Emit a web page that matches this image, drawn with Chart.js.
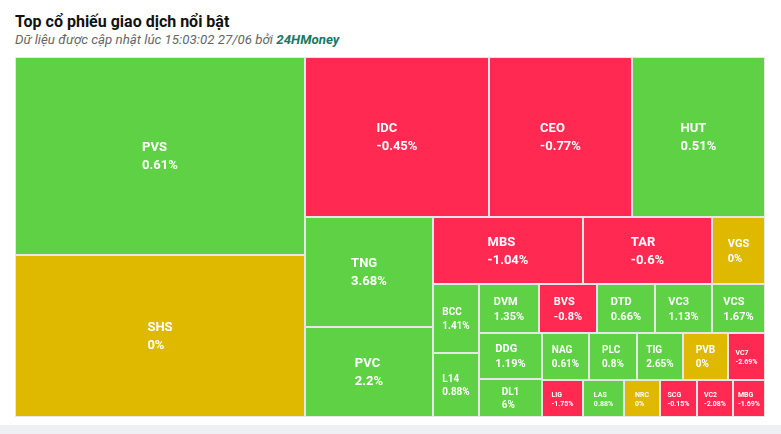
<!DOCTYPE html>
<html>
<head>
<meta charset="utf-8">
<title>Top cổ phiếu giao dịch nổi bật</title>
<script src="https://cdn.jsdelivr.net/npm/chart.js@4.4.1/dist/chart.umd.min.js"></script>
<style>
  body { margin: 0; background: #fff; font-family: Roboto, "Noto Sans", sans-serif; }
  .wrap { position: relative; width: 781px; height: 434px; overflow: hidden; }
  .title { position: absolute; left: 15px; top: 14px; margin: 0; font-size: 16px; line-height: 16px; font-weight: 700; color: #111; }
  .sub { position: absolute; left: 15px; top: 33px; font-size: 13.3px; line-height: 14px; font-style: italic; color: #666; }
  .sub b { color: #157a66; }
  .foot { position: absolute; left: 0; right: 0; top: 425px; height: 9px; background: #eef0f3; }
  canvas { position: absolute; left: 0; top: 0; }
</style>
</head>
<body>
<div class="wrap">
  <div class="title">Top cổ phiếu giao dịch nổi bật</div>
  <div class="sub">Dữ liệu được cập nhật lúc 15:03:02 27/06 bởi <b>24HMoney</b></div>
  <canvas id="myChart" width="781" height="434"></canvas>
  <div class="foot"></div>
</div>
<script>
// ma co phieu, gia tri giao dich (uoc luong theo dien tich o), % thay doi
const tickers = ['PVS', 'SHS', 'IDC', 'CEO', 'HUT', 'TNG', 'PVC', 'MBS', 'TAR', 'VGS',
  'BCC', 'L14', 'DVM', 'BVS', 'DTD', 'VC3', 'VCS', 'DDG', 'DL1', 'NAG',
  'PLC', 'TIG', 'PVB', 'VC7', 'LIG', 'LAS', 'NRC', 'SCG', 'VC2', 'MBG'];
const volumes = [57420, 46980, 29440, 22880, 21280, 14025, 11475, 9988, 8579, 3544,
  3232, 2976, 2970, 2871, 2871, 2822, 2624, 2852, 2356, 2256,
  2256, 2162, 2115, 1739, 1517, 1480, 1332, 1350, 1295, 1184];
const changes = [0.61, 0, -0.45, -0.77, 0.51, 3.68, 2.2, -1.04, -0.6, 0,
  1.41, 0.88, 1.35, -0.8, 0.66, 1.13, 1.67, 1.19, 6, 0.61,
  0.8, 2.65, 0, -2.69, -1.75, 0.88, 0, -0.15, -2.08, -1.69];

const UP = '#5ed144', DOWN = '#ff2951', FLAT = '#deb900';

// squarified, doi huong moi hang (giong kieu highcharts)
function squarify(vals, W, H) {
  const total = vals.reduce((s, v) => s + v, 0);
  const out = [];
  let x0 = 0, y0 = 0, w = W, h = H, dir = 0;
  let row = [];
  const aspect = (a, b) => Math.max(a / b, b / a);
  const place = (items) => {
    const sum = items.reduce((s, a) => s + a, 0);
    const thick = sum / (dir === 0 ? h : w);
    let cx = x0, cy = y0;
    items.forEach(a => {
      if (dir === 0) { out.push({ x: cx, y: cy, w: thick, h: a / thick }); cy += a / thick; }
      else { out.push({ x: cx, y: cy, w: a / thick, h: thick }); cx += a / thick; }
    });
    if (dir === 0) { x0 += thick; w -= thick; } else { y0 += thick; h -= thick; }
    dir = 1 - dir;
  };
  vals.forEach(v => {
    const area = W * H * v / total;
    if (row.length) {
      const side = dir === 0 ? h : w;
      const last = row[row.length - 1];
      const sum = row.reduce((s, a) => s + a, 0);
      const t1 = sum / side, t2 = (sum + area) / side;
      if (aspect(t2, last / t2) > aspect(t1, last / t1)) { place(row); row = []; }
    }
    row.push(area);
  });
  place(row);
  return out;
}

function labelSize(w, h) {
  if (w >= 100 && h >= 60) return 13;
  if (w >= 53 && h >= 45) return 11;
  if (w >= 45 && h >= 37) return 10;
  return 7;
}

const treemap = {
  id: 'treemap',
  beforeDatasetsDraw(chart) {
    const { ctx, chartArea: a, scales: { x, y } } = chart;
    const ratio = a.width / a.height;
    const cells = squarify(volumes, ratio, 1);
    ctx.save();
    cells.forEach((c, i) => {
      const l = Math.round(x.getPixelForValue(c.x / ratio));
      const r = Math.round(x.getPixelForValue((c.x + c.w) / ratio));
      const t = Math.round(y.getPixelForValue(c.y));
      const b = Math.round(y.getPixelForValue(c.y + c.h));
      const ch = changes[i];
      ctx.fillStyle = ch > 0 ? UP : (ch < 0 ? DOWN : FLAT);
      ctx.fillRect(l, t, r - l, b - t);
      ctx.strokeStyle = '#e6e6e6';
      ctx.lineWidth = 1;
      ctx.strokeRect(l + 0.5, t + 0.5, r - l - 1, b - t - 1);

      const fs = labelSize(r - l, b - t);
      ctx.font = 'bold ' + fs + 'px Roboto';
      ctx.fillStyle = '#fff';
      ctx.textBaseline = 'middle';
      ctx.textAlign = 'left';
      const lines = [tickers[i], ch + '%'];
      const bw = Math.max(...lines.map(s => ctx.measureText(s).width));
      const lh = fs * 1.35;
      const left = (l + r) / 2 - bw / 2;
      const cy = (t + b) / 2 + 1;
      ctx.fillText(lines[0], left, cy - lh / 2);
      ctx.fillText(lines[1], left, cy + lh / 2);
    });
    ctx.restore();
  }
};

const ctx = document.getElementById('myChart');

new Chart(ctx, {
  type: 'scatter',
  data: {
    datasets: [{
      data: []
    }]
  },
  options: {
    responsive: false,
    animation: false,
    devicePixelRatio: 1,
    layout: { padding: { left: 15, top: 57, right: 16, bottom: 17 } },
    scales: {
      x: { display: false, min: 0, max: 1 },
      y: { display: false, min: 0, max: 1, reverse: true }
    },
    plugins: {
      legend: { display: false },
      tooltip: { enabled: false }
    }
  },
  plugins: [treemap]
});
</script>
</body>
</html>
